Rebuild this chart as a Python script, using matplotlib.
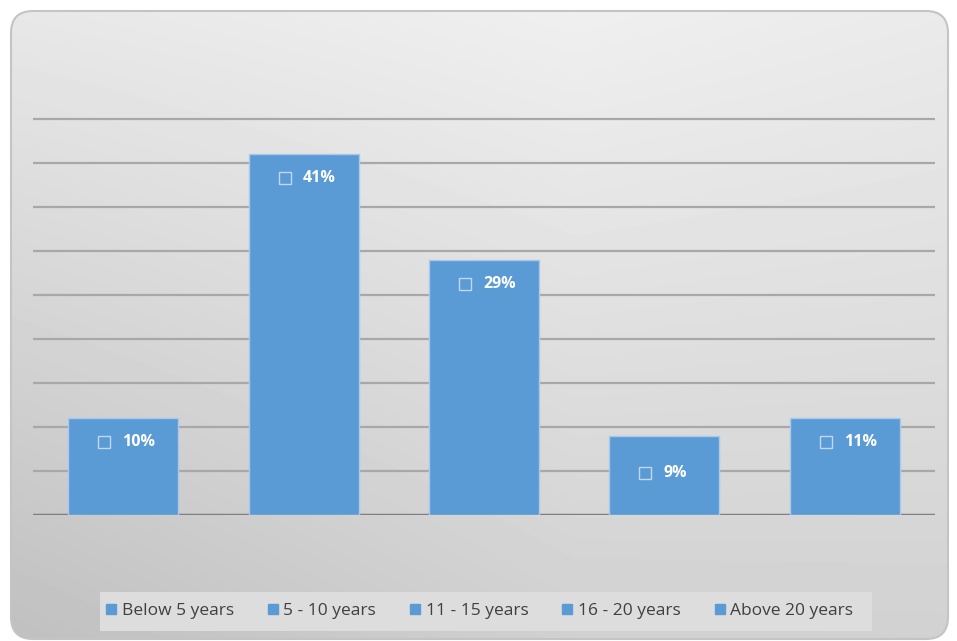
import matplotlib
matplotlib.use('Agg')
import matplotlib.pyplot as plt
import numpy as np
from matplotlib.patches import FancyBboxPatch, Rectangle
from matplotlib.transforms import offset_copy

#Data
categories = ['Below 5 years', '5 - 10 years', '11 - 15 years', '16 - 20 years', 'Above 20 years']
shares = [11, 41, 29, 9, 11] #bar heights (%)
labels = ['10%', '41%', '29%', '9%', '11%'] #printed labels
gridVals = [5, 10, 15, 20, 25, 30, 35, 40, 45]

barColor = '#5b9bd5'
plt.rcParams['font.family'] = ['Open Sans', 'DejaVu Sans']

fig = plt.figure(figsize=(9.57, 6.41), dpi=100)
W, H = 957.0, 641.0

#Background panel: rounded box with a grey gradient
bg = fig.add_axes([0, 0, 1, 1])
bg.set_xlim(0, W)
bg.set_ylim(H, 0)
bg.axis('off')
yy, xx = np.mgrid[0:H, 0:W]
grad = 0.94 - 0.10 * (yy / H) - 0.05 * np.abs(xx / W - 0.6) - 0.06 * (1 - xx / W) * (yy / H)
img = bg.imshow(grad, cmap='gray', vmin=0, vmax=1, extent=[0, W, H, 0], aspect='auto', zorder=1)
panel = FancyBboxPatch((11, 11), 937, 628, boxstyle='round,pad=0,rounding_size=22',
                       facecolor='none', edgecolor='#c4c4c4', lw=1.5, zorder=2)
bg.add_patch(panel)
img.set_clip_path(panel)

#Plot area
ax = fig.add_axes([33 / W, (H - 515) / H, 902 / W, 440 / H])
ax.patch.set_alpha(0)
x = np.arange(len(categories))
ax.set_xlim(-0.5, len(categories) - 0.5)
ax.set_ylim(0, 50)
for g in gridVals:
    ax.axhline(g, color='#a8a8a8', lw=1.6, zorder=1)
ax.axhline(0, color='#7f7f7f', lw=2.5, zorder=1)
ax.bar(x, shares, width=0.61, color=barColor, edgecolor='#a9c8ea', lw=1.0, zorder=2)
for s in ax.spines.values():
    s.set_visible(False)
ax.set_xticks([])
ax.set_yticks([])

#Data labels with the little square marker
for i, (v, lab) in enumerate(zip(shares, labels)):
    dy = -24 if v >= 10 else -37
    tt = offset_copy(ax.transData, fig=fig, x=-19, y=dy, units='dots')
    ax.plot([i], [v], marker='s', ms=8, mfc=barColor, mec='#c0d8f2', mew=1.0, transform=tt, zorder=3)
    tt2 = offset_copy(ax.transData, fig=fig, x=-1, y=dy, units='dots')
    ax.text(i, v, lab, transform=tt2, ha='left', va='center', color='white',
            fontsize=11.5, fontweight='bold', zorder=3)

#Legend box at the bottom
bg.add_patch(Rectangle((100, 592), 772, 39, facecolor='#dddddd', edgecolor='none', zorder=3))
handles = [plt.Line2D([], [], ls='none', marker='s', ms=7, mfc=barColor, mec=barColor) for _ in categories]
leg = fig.legend(handles, categories, loc='center', bbox_to_anchor=(480 / W, (H - 611) / H),
                 ncol=5, frameon=False, fontsize=12.5, handlelength=0.5, handletextpad=0.35,
                 columnspacing=2.0, labelcolor='#404040')

fig.savefig('out.png', dpi=100)
